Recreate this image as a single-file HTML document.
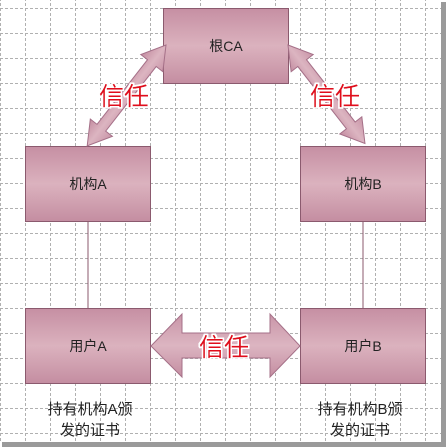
<!DOCTYPE html>
<html><head><meta charset="utf-8"><style>
html,body{margin:0;padding:0;background:#fff;}
svg{display:block;}
text{font-family:"Liberation Sans","Noto Sans CJK SC",sans-serif;}
</style></head><body>
<svg width="446" height="447" viewBox="0 0 446 447" xmlns="http://www.w3.org/2000/svg">
<defs>
<pattern id="g" width="25" height="25" patternUnits="userSpaceOnUse" x="0" y="8">
<path d="M0 0.5H25M0.5 0V25" stroke="#b0b0b0" stroke-width="1" stroke-dasharray="3,2" fill="none"/>
</pattern>
<linearGradient id="bx" x1="0" y1="0" x2="0" y2="1">
<stop offset="0" stop-color="#c68fa3"/><stop offset="0.5" stop-color="#dbb2be"/><stop offset="1" stop-color="#c48da1"/>
</linearGradient>
<linearGradient id="ar" x1="0" y1="0" x2="0" y2="1">
<stop offset="0" stop-color="#c995a8"/><stop offset="0.5" stop-color="#dcb5c1"/><stop offset="1" stop-color="#c48da1"/>
</linearGradient>
<filter id="glow"><feMorphology operator="dilate" radius="1.5" in="SourceAlpha" result="d"/><feFlood flood-color="#fff"/><feComposite in2="d" operator="in"/><feMerge><feMergeNode/><feMergeNode in="SourceGraphic"/></feMerge></filter>
</defs>
<rect x="0" y="0" width="441" height="442" fill="url(#g)"/>
<rect x="441" y="2" width="5" height="445" fill="#9a9a9a"/>
<rect x="2" y="442" width="444" height="5" fill="#9a9a9a"/>
<line x1="88" y1="221" x2="88" y2="308" stroke="#8b5a6e"/>
<line x1="363" y1="221" x2="363" y2="308" stroke="#8b5a6e"/>
<g stroke="#8b5a6e" stroke-width="1" fill="url(#bx)">
<rect x="163.5" y="8.5" width="125" height="75"/>
<rect x="25.5" y="146.5" width="125" height="75"/>
<rect x="300.5" y="146.5" width="125" height="75"/>
<rect x="25.5" y="308.5" width="125" height="75"/>
<rect x="300.5" y="308.5" width="125" height="75"/>
</g>
<g stroke="#a57088" stroke-width="1" fill="url(#ar)">
<g transform="translate(166,45) rotate(128)"><polygon points="0,0 23,-14 23,-5.5 105,-5.5 105,-14 128,0 105,14 105,5.5 23,5.5 23,14"/></g>
<g transform="translate(288,45) rotate(52)"><polygon points="0,0 23,-14 23,-5.5 102,-5.5 102,-14 125,0 102,14 102,5.5 23,5.5 23,14"/></g>
<polygon points="151,346 182,314 182,333 270,333 270,314 300,346 270,377 270,358 182,358 182,377"/>
</g>
<g font-size="14" fill="#222" text-anchor="middle">
<text x="226" y="51">根CA</text>
<text x="88" y="189">机构A</text>
<text x="363" y="189">机构B</text>
<text x="88" y="351">用户A</text>
<text x="363" y="351">用户B</text>
</g>
<g font-size="15" fill="#222" text-anchor="middle">
<text x="90" y="414">持有机构A颁</text>
<text x="90" y="435">发的证书</text>
<text x="360" y="414">持有机构B颁</text>
<text x="360" y="435">发的证书</text>
</g>
<g font-size="25" fill="#e0101c" text-anchor="middle" filter="url(#glow)">
<text x="124" y="105">信任</text>
<text x="335" y="105">信任</text>
<text x="224" y="356">信任</text>
</g>
</svg>
</body></html>
